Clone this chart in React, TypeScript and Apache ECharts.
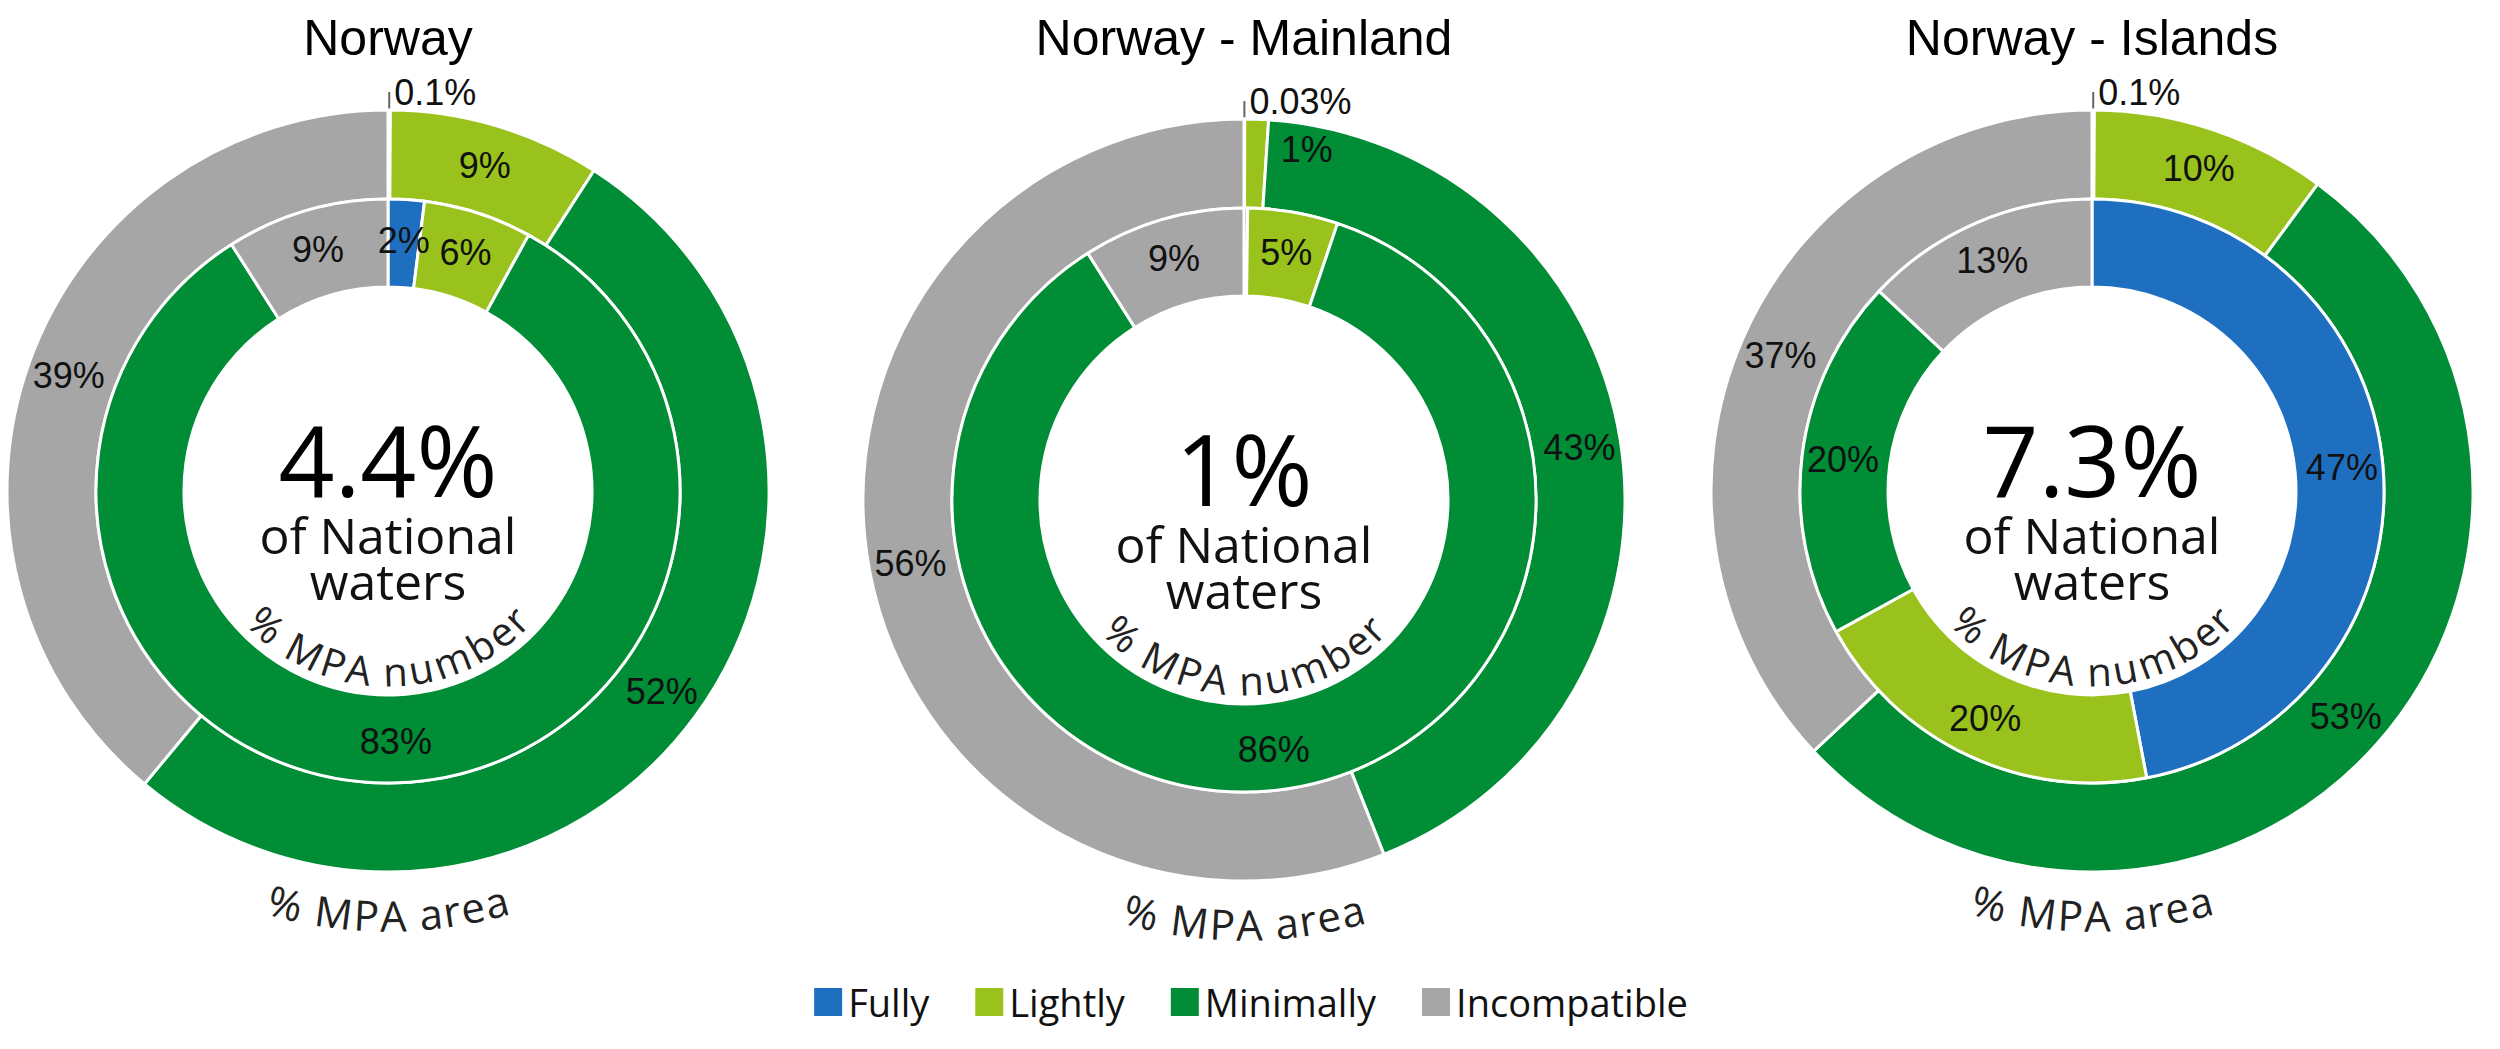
import React, { useEffect, useRef } from "react";
import * as echarts from "echarts";

const categories = ["Fully", "Lightly", "Minimally", "Incompatible"];
const colors = ["#1f6fc0", "#99c31c", "#008d36", "#a6a6a6"];
const titles = ["Norway", "Norway - Mainland", "Norway - Islands"];
const centerValues = ["4.4%", "1%", "7.3%"];
const areaNorway = [0.1, 9, 52, 39];
const numberNorway = [2, 6, 83, 9];
const areaMainland = [0.03, 1, 43, 56];
const numberMainland = [0.2, 5, 86, 9];
const areaIslands = [0.1, 10, 53, 37];
const numberIslands = [47, 20, 20, 13];

const outerData = [areaNorway, areaMainland, areaIslands];
const innerData = [numberNorway, numberMainland, numberIslands];
const centers = [[388, 491], [1244, 500], [2092, 491]];
const R_OUT = [292, 381];
const R_IN = [204, 292];

const FONT = "'Open Sans', sans-serif";
const LFONT = "'Liberation Sans', Arial, sans-serif";

function arcText(str: string, cx: number, cy: number, r: number, size: number) {
  const ctx = document.createElement("canvas").getContext("2d")!;
  ctx.font = `${size}px 'Open Sans'`;
  const widths = str.split("").map((c) => ctx.measureText(c).width * 1.04);
  const total = widths.reduce((a, b) => a + b, 0);
  let acc = 0;
  const out: any[] = [];
  str.split("").forEach((ch, i) => {
    const mid = acc + widths[i] / 2 - total / 2;
    acc += widths[i];
    const theta = Math.PI / 2 - mid / r;
    out.push({
      type: "text",
      x: cx + r * Math.cos(theta),
      y: cy + r * Math.sin(theta),
      rotation: Math.PI / 2 - theta,
      style: { text: ch, font: `${size}px ${FONT}`, fill: "#222", align: "center", verticalAlign: "middle" },
    });
  });
  return out;
}

function makeData(vals: number[], outer: boolean) {
  return vals.map((v, i) => {
    const d: any = { name: categories[i], value: v, itemStyle: { color: colors[i] } };
    if (v < 0.5 && outer) {
      d.label = { position: "outside", distance: 4 };
      d.labelLine = { show: true, length: 18, length2: 0, lineStyle: { color: "#666", width: 2 } };
    } else if (v <= 1 && outer) {
      d.label = { position: "outside" };
      d.labelLine = { show: true, length: -30, length2: 20, lineStyle: { color: "#666", width: 2 } };
    }
    return d;
  });
}

export default function App() {
  const ref = useRef<HTMLDivElement>(null);
  useEffect(() => {
    const chart = echarts.init(ref.current!, undefined, { renderer: "svg" });
    const series: any[] = [];
    const graphic: any[] = [];
    centers.forEach((c, k) => {
      const base = {
        type: "pie",
        center: c,
        startAngle: 90,
        clockwise: true,
        silent: true,
        itemStyle: { borderColor: "#fff", borderWidth: 3 },
        label: {
          show: true,
          position: "inside",
          formatter: (p: any) => `${p.value}%`,
          fontFamily: LFONT,
          fontSize: 36,
          color: "#111",
        },
        labelLine: { show: false },
      };
      series.push({ ...base, radius: R_OUT, data: makeData(outerData[k], true) });
      series.push({ ...base, radius: R_IN, data: makeData(innerData[k], false) });
      graphic.push({
        type: "text", x: c[0], y: 38,
        style: { text: titles[k], font: `50px ${LFONT}`, fill: "#000", align: "center", verticalAlign: "middle" },
      });
      graphic.push({
        type: "text", x: c[0], y: c[1] - 32,
        style: { text: centerValues[k], font: `98px ${FONT}`, fill: "#000", align: "center", verticalAlign: "middle" },
      });
      graphic.push({
        type: "text", x: c[0], y: c[1] + 44,
        style: { text: "of National", font: `50px ${FONT}`, fill: "#111", align: "center", verticalAlign: "middle" },
      });
      graphic.push({
        type: "text", x: c[0], y: c[1] + 90,
        style: { text: "waters", font: `50px ${FONT}`, fill: "#111", align: "center", verticalAlign: "middle" },
      });
      graphic.push(...arcText("% MPA number", c[0], c[1], 180, 40));
      graphic.push(...arcText("% MPA area", c[0], c[1], 424, 42));
    });
    chart.setOption({
      animation: false,
      backgroundColor: "#fff",
      legend: {
        data: categories,
        left: "center",
        top: 978,
        icon: "rect",
        itemWidth: 30,
        itemHeight: 30,
        itemGap: 44,
        textStyle: { fontFamily: FONT, fontSize: 38, color: "#111" },
      },
      series,
      graphic,
    });
    return () => chart.dispose();
  }, []);
  return <div ref={ref} style={{ position: "fixed", left: 0, top: 0, width: 2500, height: 1049 }} />;
}
